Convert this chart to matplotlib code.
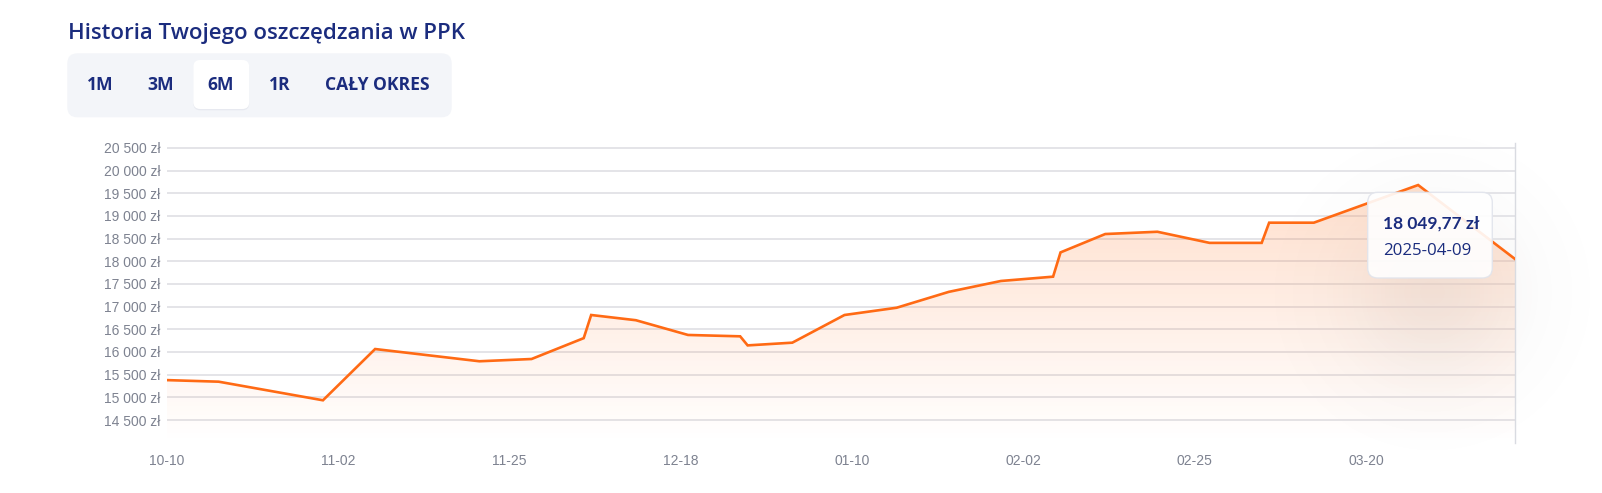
import matplotlib
matplotlib.use("Agg")
import matplotlib.pyplot as plt
import matplotlib.dates as mdates
from matplotlib.patches import FancyBboxPatch
from matplotlib.ticker import FuncFormatter
import numpy as np
import datetime as dt

# ---------------- data ----------------
title = "Historia Twojego oszczędzania w PPK"
range_buttons = ["1M", "3M", "6M", "1R", "CAŁY OKRES"]
active_button = "6M"

dates = ["2024-10-10", "2024-10-17", "2024-10-31", "2024-11-07", "2024-11-21",
         "2024-11-28", "2024-12-05", "2024-12-06", "2024-12-12", "2024-12-19",
         "2024-12-26", "2024-12-27", "2025-01-02", "2025-01-09", "2025-01-16",
         "2025-01-23", "2025-01-30", "2025-02-06", "2025-02-07", "2025-02-13",
         "2025-02-20", "2025-02-27", "2025-03-06", "2025-03-07", "2025-03-13",
         "2025-03-27", "2025-04-09"]
values = [15380, 15345, 14935, 16065, 15795,
          15845, 16305, 16815, 16700, 16375,
          16345, 16145, 16205, 16815, 16975,
          17325, 17565, 17660, 18195, 18600,
          18650, 18405, 18405, 18850, 18850,
          19680, 18049.77]

y_ticks = [14500, 15000, 15500, 16000, 16500, 17000, 17500,
           18000, 18500, 19000, 19500, 20000, 20500]
x_tick_dates = ["2024-10-10", "2024-11-02", "2024-11-25", "2024-12-18",
                "2025-01-10", "2025-02-02", "2025-02-25", "2025-03-20"]

# ---------------- styling ----------------
NAVY = "#1b2c7e"
ORANGE = "#ff6a14"
GRID = "#e2e2e6"
TICK = "#7d8290"
W, H = 1602, 493

d = [dt.datetime.strptime(s, "%Y-%m-%d") for s in dates]
dn = mdates.date2num(d)
xt = mdates.date2num([dt.datetime.strptime(s, "%Y-%m-%d") for s in x_tick_dates])

fig = plt.figure(figsize=(W / 100, H / 100), dpi=100)
fig.patch.set_facecolor("white")

# background overlay (pixel coords): panel + glow
bg = fig.add_axes([0, 0, 1, 1], zorder=0)
bg.set_xlim(0, W)
bg.set_ylim(H, 0)
bg.axis("off")

# glow (tooltip shadow)
gx, gy = np.meshgrid(np.arange(W), np.arange(H))
r2 = ((gx - 1432) / 62.0) ** 2 + ((gy - 292) / 62.0) ** 2
alpha = 0.10 * np.exp(-r2 / 2)
glow = np.zeros((H, W, 4))
glow[..., 0] = 0.45
glow[..., 1] = 0.42
glow[..., 2] = 0.42
glow[..., 3] = alpha
bg.imshow(glow, extent=(0, W, H, 0), zorder=1, interpolation="bilinear")

# title
bg.text(68, 34, title, fontsize=16.0, color=NAVY, fontfamily="Open Sans",
        fontweight="semibold", ha="left", va="center")

# button panel
bg.add_patch(FancyBboxPatch((67.3, 53.3), 384.4, 64,
                            boxstyle="round,pad=0,rounding_size=10",
                            fc="#f3f5f9", ec="none", zorder=2))
btn_x = [100.7, 160.7, 221, 280, 377.3]
for lab, bx in zip(range_buttons, btn_x):
    if lab == active_button:
        bg.add_patch(FancyBboxPatch((193.3, 61), 56, 49.3,
                                    boxstyle="round,pad=0,rounding_size=7",
                                    fc="#dfe2ea", ec="none", alpha=0.6, zorder=3))
        bg.add_patch(FancyBboxPatch((193.3, 60), 56, 49,
                                    boxstyle="round,pad=0,rounding_size=7",
                                    fc="white", ec="none", zorder=4))
    bg.text(bx, 85.5, lab, fontsize=12.6, color=NAVY, fontfamily="Open Sans",
            fontweight="bold", ha="center", va="center", zorder=5)

# ---------------- main axes ----------------
left, right = 166.5 / W, 1515 / W
bottom, top = 1 - 442.7 / H, 1 - 143.3 / H
ax = fig.add_axes([left, bottom, right - left, top - bottom], zorder=2)
ax.set_facecolor("none")
ax.set_xlim(dn[0], dn[-1])
ax.set_ylim(14000, 20600)

for v in y_ticks:
    ax.axhline(v, color=GRID, lw=1.3, zorder=1)

poly = ax.fill_between(dn, values, 14000, color="none", lw=0)
grad = np.zeros((256, 2, 4))
a = np.linspace(0.0, 0.26, 256)[:, None]
grad[..., 0] = 1.0
grad[..., 1] = 0.44
grad[..., 2] = 0.12
grad[..., 3] = a
im = ax.imshow(grad, extent=(dn[0], dn[-1], 14000, 20600), origin="lower",
               aspect="auto", zorder=2, interpolation="bilinear")
im.set_clip_path(poly.get_paths()[0], transform=ax.transData)

ax.plot(dn, values, color=ORANGE, lw=1.9, zorder=3, solid_joinstyle="miter")

for s in ["left", "top", "bottom"]:
    ax.spines[s].set_visible(False)
ax.spines["right"].set_color("#d9dbe1")
ax.spines["right"].set_linewidth(1.0)

ax.set_yticks(y_ticks)
ax.yaxis.set_major_formatter(FuncFormatter(
    lambda v, p: f"{int(round(v)):,}".replace(",", " ") + " zł"))
ax.set_xticks(xt)
ax.xaxis.set_major_formatter(mdates.DateFormatter("%m-%d"))
ax.tick_params(axis="both", length=0, labelsize=10, labelcolor=TICK)
ax.tick_params(axis="y", pad=4.5)
ax.tick_params(axis="x", pad=8)
for lab in ax.get_xticklabels() + ax.get_yticklabels():
    lab.set_fontfamily("Liberation Sans")

# ---------------- tooltip overlay ----------------
fg = fig.add_axes([0, 0, 1, 1], zorder=5)
fg.set_xlim(0, W)
fg.set_ylim(H, 0)
fg.axis("off")
fg.add_patch(FancyBboxPatch((1367.7, 192.3), 124.6, 85.7,
                            boxstyle="round,pad=0,rounding_size=10",
                            fc="white", alpha=0.9, ec="#e1e4ec", lw=1.0))
last_val = values[-1]
val_txt = f"{last_val:,.2f}".replace(",", " ").replace(".", ",") + " zł"
fg.text(1383.3, 224, val_txt, fontsize=12.5, color=NAVY, fontfamily="Lato",
        fontweight="bold", ha="left", va="center")
fg.text(1383.3, 251, dates[-1], fontsize=12.2, color=NAVY, fontfamily="Open Sans",
        ha="left", va="center")

fig.savefig("out.png", dpi=100, facecolor="white")
